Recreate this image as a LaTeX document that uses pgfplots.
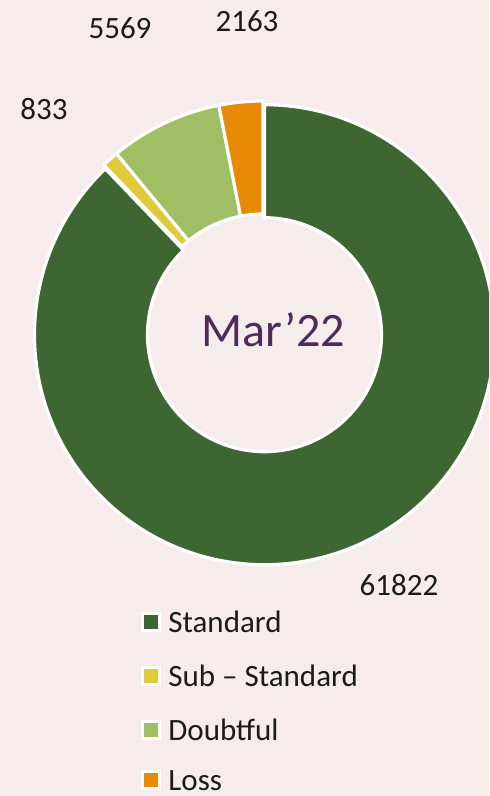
\documentclass[border=0pt]{standalone}
\usepackage{fontspec}
\setmainfont{Carlito}
\usepackage{pgfplots}
\usepackage{pgfplotstable}
\pgfplotsset{compat=1.18}

\definecolor{bgc}{HTML}{F6ECEC}
\definecolor{cstd}{HTML}{3D6632}
\definecolor{csub}{HTML}{E0C93A}
\definecolor{cdbt}{HTML}{A0BE64}
\definecolor{closs}{HTML}{E88A05}
\definecolor{ctitle}{HTML}{4E2C55}
\definecolor{ctext}{HTML}{1A1A1A}

% value, colour, explode (px), value-label position, legend baseline (px, image coordinates)
\pgfplotstableread[col sep=comma]{
name,value,color,explode,lx,ly,ky
Standard,61822,cstd,4,399,595,632
Sub – Standard,833,csub,0,44,120,686
Doubtful,5569,cdbt,0,120,39,740
Loss,2163,closs,0,247,32,790
}\donutdata

% total and slice angles, clockwise from 12 o'clock
\gdef\total{0}
\pgfplotsforeachungrouped \i in {0,...,3}{%
  \pgfplotstablegetelem{\i}{value}\of\donutdata
  \xdef\total{\fpeval{\total+\pgfplotsretval}}%
}
\xdef\cum{90}
\pgfplotsforeachungrouped \i in {0,...,3}{%
  \pgfplotstablegetelem{\i}{value}\of\donutdata
  \expandafter\xdef\csname val\i\endcsname{\pgfplotsretval}%
  \expandafter\xdef\csname sa\i\endcsname{\cum}%
  \xdef\cum{\fpeval{\cum-360*\pgfplotsretval/\total}}%
  \expandafter\xdef\csname ea\i\endcsname{\cum}%
  \expandafter\xdef\csname ma\i\endcsname{\fpeval{(\csname sa\i\endcsname+\cum)/2}}%
  \pgfplotstablegetelem{\i}{color}\of\donutdata
  \colorlet{slice\i}{\pgfplotsretval}%
  \pgfplotstablegetelem{\i}{name}\of\donutdata
  \expandafter\xdef\csname nm\i\endcsname{\pgfplotsretval}%
  \pgfplotstablegetelem{\i}{explode}\of\donutdata
  \expandafter\xdef\csname ex\i\endcsname{\fpeval{0.5*\pgfplotsretval}}%
  \pgfplotstablegetelem{\i}{lx}\of\donutdata
  \expandafter\xdef\csname lx\i\endcsname{\pgfplotsretval}%
  \pgfplotstablegetelem{\i}{ly}\of\donutdata
  \expandafter\xdef\csname ly\i\endcsname{\pgfplotsretval}%
  \pgfplotstablegetelem{\i}{ky}\of\donutdata
  \expandafter\xdef\csname ky\i\endcsname{\pgfplotsretval}%
}

\begin{document}
\begin{tikzpicture}
\begin{axis}[
    hide axis, scale only axis,
    width=244.5pt, height=398pt,
    xmin=0, xmax=489, ymin=0, ymax=796,
    y dir=reverse, clip=true,
]
  \fill[bgc] (axis cs:0,0) rectangle (axis cs:489,796);
  \coordinate (bl) at (axis cs:0,796);
  \coordinate (tr) at (axis cs:489,0);
  % donut slices
  \pgfplotsinvokeforeach{0,...,3}{
    \coordinate (c#1) at ([shift={(\csname ma#1\endcsname:\csname ex#1\endcsname pt)}]axis cs:263,331);
    \fill[slice#1, draw=white, line width=1.6pt, line join=round]
      ([shift={(\csname sa#1\endcsname:115pt)}]c#1)
        arc[start angle=\csname sa#1\endcsname, end angle=\csname ea#1\endcsname, radius=115pt]
      -- ([shift={(\csname ea#1\endcsname:58.5pt)}]c#1)
        arc[start angle=\csname ea#1\endcsname, end angle=\csname sa#1\endcsname, radius=58.5pt]
      -- cycle;
    % value labels
    \node[anchor=base, text=ctext, font=\fontsize{15.5pt}{18pt}\selectfont, inner sep=0pt]
      at (axis cs:\csname lx#1\endcsname,\csname ly#1\endcsname) {\csname val#1\endcsname};
    % legend
    \fill[slice#1, draw=white, line width=1.5pt]
      (axis cs:142.5,\csname ky#1\endcsname-18.5) rectangle (axis cs:159.5,\csname ky#1\endcsname-1.5);
    \node[anchor=base west, text=ctext, font=\fontsize{15.5pt}{18pt}\selectfont, inner sep=0pt]
      at (axis cs:168,\csname ky#1\endcsname) {\csname nm#1\endcsname};
  }
  \node[anchor=base, text=ctitle, font=\fontsize{24pt}{28pt}\selectfont, inner sep=0pt]
    at (axis cs:273.5,346) {Mar’22};
\end{axis}
\pgfresetboundingbox
\useasboundingbox (bl) rectangle (tr);
\end{tikzpicture}
\end{document}
